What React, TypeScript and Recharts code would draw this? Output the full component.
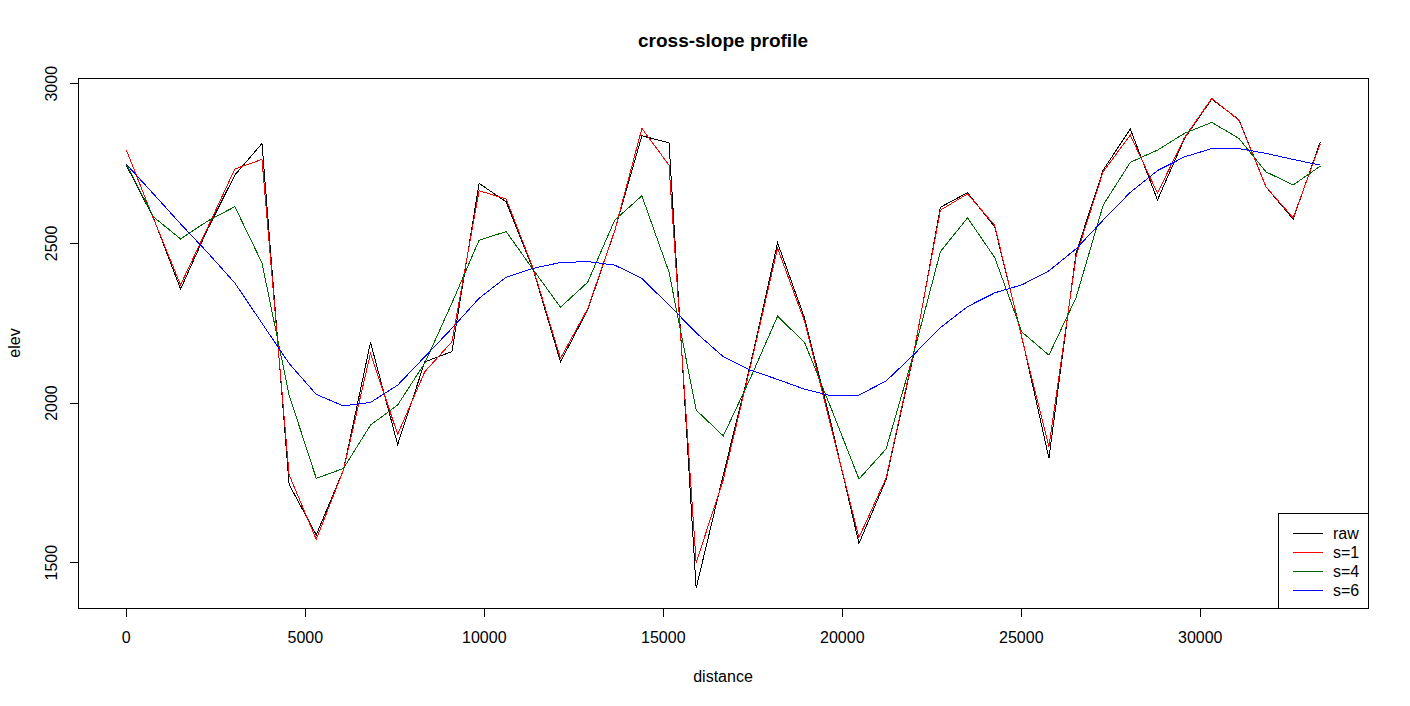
import { Line, LineChart, ReferenceArea, XAxis, YAxis } from 'recharts'

// distance along the profile (m), one sample every ~758 m
const distance = [
  0, 758, 1516, 2274, 3032, 3790, 4548, 5306, 6064, 6822, 7580, 8338, 9096, 9854, 10612,
  11370, 12128, 12886, 13644, 14402, 15160, 15918, 16676, 17434, 18192, 18950, 19708, 20466,
  21224, 21982, 22740, 23498, 24256, 25014, 25772, 26530, 27288, 28046, 28804, 29562, 30320,
  31078, 31836, 32594, 33352,
]

const rawElev = [
  2745, 2580, 2357, 2545, 2714, 2813, 1745, 1587, 1790, 2190, 1870, 2129, 2161, 2688, 2630,
  2417, 2129, 2291, 2540, 2837, 2815, 1420, 1775, 2120, 2502, 2265, 1926, 1560, 1760, 2145,
  2613, 2659, 2552, 2208, 1827, 2470, 2730, 2858, 2636, 2829, 2952, 2888, 2677, 2576, 2818,
]

const s1Elev = [
  2793, 2578, 2370, 2550, 2733, 2763, 1775, 1573, 1790, 2156, 1902, 2098, 2192, 2665, 2639,
  2420, 2140, 2295, 2540, 2860, 2745, 1500, 1760, 2115, 2485, 2255, 1915, 1579, 1765, 2150,
  2604, 2655, 2557, 2205, 1863, 2460, 2725, 2839, 2657, 2832, 2954, 2886, 2677, 2580, 2812,
]

const s4Elev = [
  2748, 2583, 2514, 2570, 2615, 2439, 2025, 1764, 1795, 1931, 1994, 2125, 2313, 2510, 2537,
  2417, 2300, 2378, 2573, 2649, 2410, 1978, 1897, 2078, 2272, 2189, 1978, 1762, 1856, 2150,
  2474, 2580, 2456, 2223, 2150, 2330, 2620, 2754, 2792, 2845, 2879, 2829, 2724, 2683, 2742,
]

const s6Elev = [
  2748, 2655, 2561, 2471, 2376, 2250, 2124, 2027, 1991, 2002, 2056, 2145, 2234, 2328, 2394,
  2422, 2440, 2443, 2432, 2390, 2307, 2220, 2145, 2103, 2074, 2043, 2022, 2025, 2069, 2150,
  2236, 2302, 2345, 2370, 2414, 2483, 2573, 2660, 2728, 2771, 2797, 2797, 2782, 2763, 2745,
]

const xTicks = [0, 5000, 10000, 15000, 20000, 25000, 30000]
const yTicks = [1500, 2000, 2500, 3000]

const X_DOMAIN: [number, number] = [-1349, 34685]
const Y_DOMAIN: [number, number] = [1358, 3018]

const series = [
  { key: 'raw', label: 'raw', color: '#000000' },
  { key: 's1', label: 's=1', color: '#ff0000' },
  { key: 's4', label: 's=4', color: '#006400' },
  { key: 's6', label: 's=6', color: '#0000ff' },
]

const data = distance.map((d, i) => ({
  distance: d,
  raw: rawElev[i],
  s1: s1Elev[i],
  s4: s4Elev[i],
  s6: s6Elev[i],
}))

const FONT = '"Liberation Sans", Arial, sans-serif'

const XTick = (props: { x?: number; payload?: { value: number } }) => (
  <text x={props.x} y={643} textAnchor="middle" fontSize={16} fontFamily={FONT} fill="#000">
    {props.payload?.value}
  </text>
)

const YTick = (props: { y?: number; payload?: { value: number } }) => (
  <text
    x={57}
    y={props.y}
    transform={`rotate(-90, 57, ${props.y})`}
    textAnchor="middle"
    fontSize={16}
    fontFamily={FONT}
    fill="#000"
  >
    {props.payload?.value}
  </text>
)

export default function App() {
  return (
    <div style={{ position: 'absolute', left: 0, top: 0, width: 1410, height: 706, background: '#fff' }}>
      <LineChart width={1410} height={706} data={data} margin={{ top: 78, right: 42, left: 0, bottom: 38 }}>
        <XAxis
          dataKey="distance"
          type="number"
          domain={X_DOMAIN}
          ticks={xTicks}
          allowDataOverflow
          axisLine={false}
          tickLine={{ stroke: '#000', shapeRendering: 'crispEdges' }}
          tickSize={9}
          height={60}
          tick={XTick}
        />
        <YAxis
          type="number"
          domain={Y_DOMAIN}
          ticks={yTicks}
          allowDataOverflow
          axisLine={false}
          tickLine={{ stroke: '#000', shapeRendering: 'crispEdges' }}
          tickSize={8}
          width={78}
          tick={YTick}
        />
        <ReferenceArea
          x1={X_DOMAIN[0]}
          x2={X_DOMAIN[1]}
          y1={Y_DOMAIN[0]}
          y2={Y_DOMAIN[1]}
          fill="none"
          stroke="#000"
          strokeWidth={1}
          shapeRendering="crispEdges"
        />
        {series.map((s) => (
          <Line
            key={s.key}
            type="linear"
            dataKey={s.key}
            stroke={s.color}
            strokeWidth={1}
            shapeRendering="crispEdges"
            dot={false}
            activeDot={false}
            isAnimationActive={false}
          />
        ))}
      </LineChart>
      <svg
        width={1410}
        height={706}
        style={{ position: 'absolute', left: 0, top: 0, pointerEvents: 'none' }}
      >
        <text x={723} y={47} textAnchor="middle" fontSize={19} fontWeight="bold" fontFamily={FONT}>
          cross-slope profile
        </text>
        <text x={723} y={682} textAnchor="middle" fontSize={16} fontFamily={FONT}>
          distance
        </text>
        <text x={20} y={343} transform="rotate(-90, 20, 343)" textAnchor="middle" fontSize={16} fontFamily={FONT}>
          elev
        </text>
        <rect x={1278.5} y={513.5} width={90} height={95} fill="#fff" stroke="#000" shapeRendering="crispEdges" />
        {series.map((s, i) => (
          <g key={s.key}>
            <line
              x1={1293}
              x2={1323}
              y1={533.5 + i * 19}
              y2={533.5 + i * 19}
              stroke={s.color}
              shapeRendering="crispEdges"
            />
            <text x={1333} y={539 + i * 19} fontSize={16} fontFamily={FONT}>
              {s.label}
            </text>
          </g>
        ))}
      </svg>
    </div>
  )
}
